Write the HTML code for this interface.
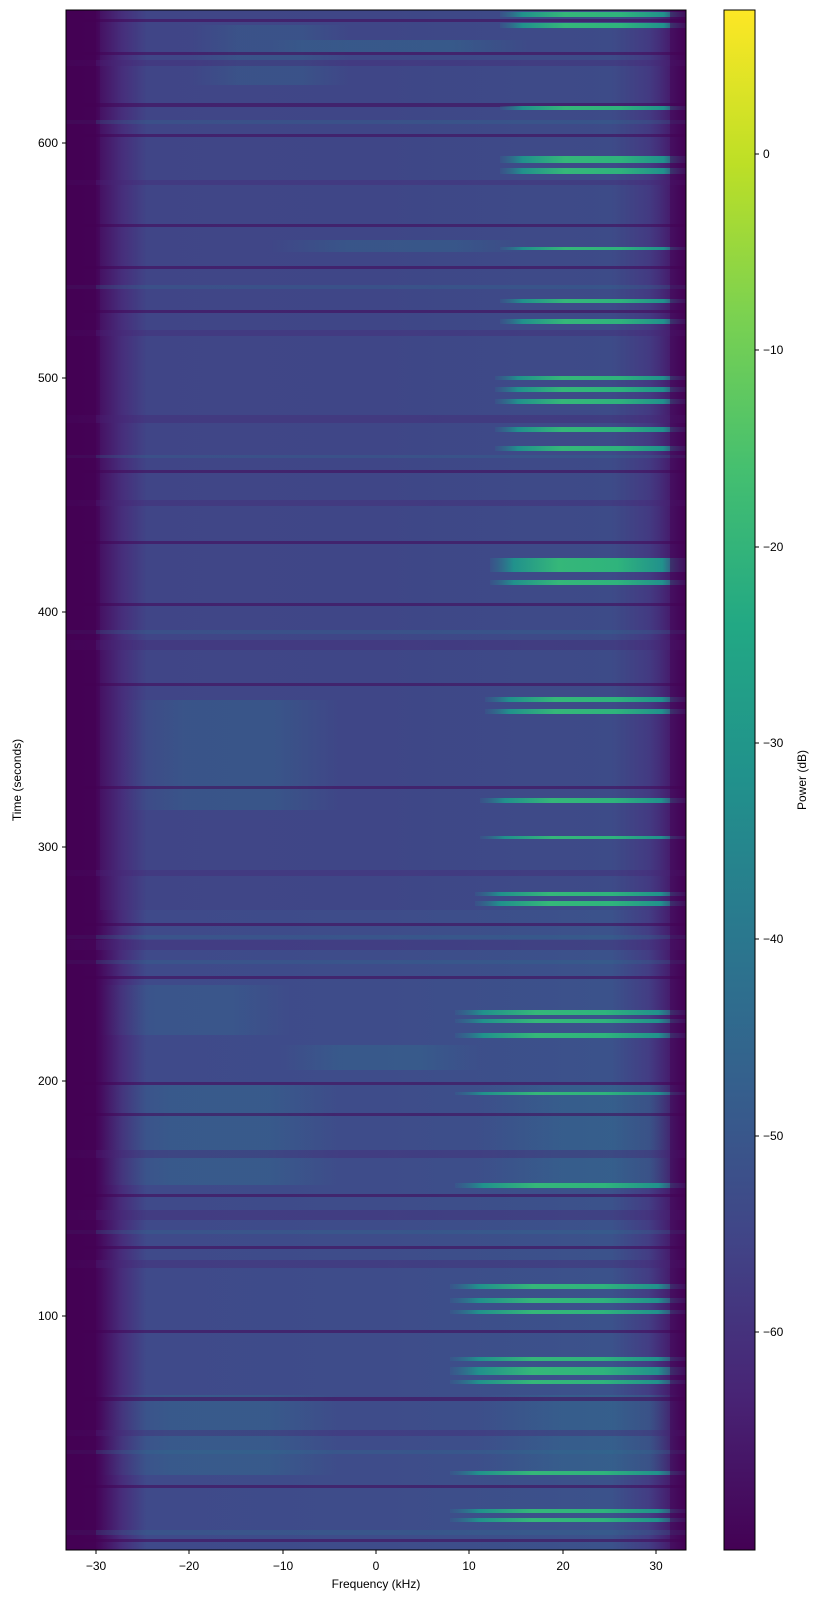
<!DOCTYPE html>
<html><head><meta charset="utf-8"><style>
body{margin:0;background:#fff;}
svg{display:block;font-family:"Liberation Sans","DejaVu Sans",sans-serif;}
</style></head><body>
<svg width="823" height="1603" viewBox="0 0 823 1603" xmlns="http://www.w3.org/2000/svg">
<defs>
<linearGradient id="base" x1="66" x2="686" y1="0" y2="0" gradientUnits="userSpaceOnUse">
<stop offset="0" stop-color="#440154"/>
<stop offset="0.05" stop-color="#450559"/>
<stop offset="0.09" stop-color="#472d7b"/>
<stop offset="0.13" stop-color="#3f4a8a"/>
<stop offset="0.5" stop-color="#3e4c8a"/>
<stop offset="0.88" stop-color="#3b528b"/>
<stop offset="0.94" stop-color="#433d84"/>
<stop offset="0.98" stop-color="#46186a"/>
<stop offset="1" stop-color="#440154"/>
</linearGradient>
<linearGradient id="grn" x1="0" x2="1" y1="0" y2="0">
<stop offset="0" stop-color="#2c728e" stop-opacity="0.2"/>
<stop offset="0.12" stop-color="#21918c"/>
<stop offset="0.35" stop-color="#35b779"/>
<stop offset="0.65" stop-color="#2fb47c"/>
<stop offset="0.88" stop-color="#21918c"/>
<stop offset="1" stop-color="#3b528b" stop-opacity="0.3"/>
</linearGradient>
<linearGradient id="tealL" x1="0" x2="1" y1="0" y2="0">
<stop offset="0" stop-color="#2a788e" stop-opacity="0"/>
<stop offset="0.3" stop-color="#2a788e" stop-opacity="0.6"/>
<stop offset="0.7" stop-color="#2a788e" stop-opacity="0.6"/>
<stop offset="1" stop-color="#2a788e" stop-opacity="0"/>
</linearGradient>
<linearGradient id="tealR" x1="0" x2="1" y1="0" y2="0">
<stop offset="0" stop-color="#2a788e" stop-opacity="0"/>
<stop offset="0.4" stop-color="#2a788e" stop-opacity="0.5"/>
<stop offset="0.85" stop-color="#2a788e" stop-opacity="0.6"/>
<stop offset="1" stop-color="#2a788e" stop-opacity="0"/>
</linearGradient>
<linearGradient id="vir" x1="0" x2="0" y1="1" y2="0">
<stop offset="0" stop-color="#440154"/>
<stop offset="0.1" stop-color="#482475"/>
<stop offset="0.2" stop-color="#414487"/>
<stop offset="0.3" stop-color="#355f8d"/>
<stop offset="0.4" stop-color="#2a788e"/>
<stop offset="0.5" stop-color="#21918c"/>
<stop offset="0.6" stop-color="#22a884"/>
<stop offset="0.7" stop-color="#44bf70"/>
<stop offset="0.8" stop-color="#7ad151"/>
<stop offset="0.9" stop-color="#bddf26"/>
<stop offset="1" stop-color="#fde725"/>
</linearGradient>
<clipPath id="pc"><rect x="66" y="10" width="620" height="1540"/></clipPath>
</defs>
<g clip-path="url(#pc)">
<rect x="66" y="10" width="620" height="1540" fill="url(#base)"/>
<rect x="100" y="10" width="560" height="900" fill="#46337f" opacity="0.2"/>
<!-- teal broad patches -->
<rect x="120" y="700" width="220" height="110" fill="url(#tealL)" opacity="0.5"/>
<rect x="100" y="1085" width="240" height="100" fill="url(#tealL)" opacity="0.55"/>
<rect x="100" y="1395" width="240" height="80" fill="url(#tealL)" opacity="0.55"/>
<rect x="100" y="985" width="190" height="50" fill="url(#tealL)" opacity="0.4"/>
<rect x="190" y="25" width="160" height="60" fill="url(#tealL)" opacity="0.4"/>
<rect x="480" y="1085" width="200" height="100" fill="url(#tealR)" opacity="0.6"/>
<rect x="480" y="1395" width="200" height="80" fill="url(#tealR)" opacity="0.6"/>
<rect x="270" y="40" width="260" height="12" fill="url(#tealL)" opacity="0.6"/>
<rect x="270" y="240" width="260" height="12" fill="url(#tealL)" opacity="0.5"/>
<rect x="280" y="1045" width="200" height="25" fill="url(#tealL)" opacity="0.5"/>
<!-- subtle stripes -->
<g fill="#482475" opacity="0.35">
<rect x="66" y="60" width="620" height="6"/>
<rect x="66" y="180" width="620" height="5"/>
<rect x="66" y="330" width="620" height="6"/>
<rect x="66" y="415" width="620" height="8"/>
<rect x="66" y="500" width="620" height="6"/>
<rect x="66" y="640" width="620" height="10"/>
<rect x="66" y="870" width="620" height="6"/>
<rect x="66" y="940" width="620" height="10"/>
<rect x="66" y="1150" width="620" height="8"/>
<rect x="66" y="1210" width="620" height="10"/>
<rect x="66" y="1260" width="620" height="8"/>
<rect x="66" y="1430" width="620" height="6"/>
</g>
<g fill="#2c728e" opacity="0.25">
<rect x="66" y="120" width="620" height="4"/>
<rect x="66" y="285" width="620" height="4"/>
<rect x="66" y="455" width="620" height="3"/>
<rect x="66" y="630" width="620" height="4"/>
<rect x="66" y="935" width="620" height="4"/>
<rect x="66" y="960" width="620" height="4"/>
<rect x="66" y="1230" width="620" height="4"/>
<rect x="66" y="1450" width="620" height="4"/>
<rect x="66" y="1530" width="620" height="5"/>
</g>
<!-- dark bands -->
<g fill="#440154" opacity="0.5">
<rect x="66" y="19" width="620" height="3"/>
<rect x="66" y="52" width="620" height="3"/>
<rect x="66" y="103" width="620" height="4"/>
<rect x="66" y="134" width="620" height="3"/>
<rect x="66" y="224" width="620" height="3"/>
<rect x="66" y="266" width="620" height="3"/>
<rect x="66" y="310" width="620" height="3"/>
<rect x="66" y="470" width="620" height="3"/>
<rect x="66" y="541" width="620" height="3"/>
<rect x="66" y="603" width="620" height="3"/>
<rect x="66" y="683" width="620" height="3"/>
<rect x="66" y="786" width="620" height="3"/>
<rect x="66" y="923" width="620" height="3"/>
<rect x="66" y="976" width="620" height="3"/>
<rect x="66" y="1082" width="620" height="3"/>
<rect x="66" y="1113" width="620" height="3"/>
<rect x="66" y="1194" width="620" height="3"/>
<rect x="66" y="1246" width="620" height="3"/>
<rect x="66" y="1330" width="620" height="3"/>
<rect x="66" y="1397" width="620" height="4"/>
<rect x="66" y="1485" width="620" height="3"/>
<rect x="66" y="1539" width="620" height="3"/>
</g>
<!-- bright green bands right -->
<g fill="url(#grn)">
<rect x="500" y="12" width="186" height="5"/>
<rect x="500" y="23" width="186" height="5"/>
<rect x="500" y="106" width="186" height="4"/>
<rect x="500" y="156" width="186" height="7"/>
<rect x="500" y="168" width="186" height="6"/>
<rect x="500" y="247" width="186" height="3"/>
<rect x="500" y="299" width="186" height="4"/>
<rect x="500" y="319" width="186" height="5"/>
<rect x="495" y="376" width="191" height="4"/>
<rect x="495" y="387" width="191" height="5"/>
<rect x="495" y="399" width="191" height="5"/>
<rect x="495" y="427" width="191" height="5"/>
<rect x="495" y="446" width="191" height="5"/>
<rect x="490" y="558" width="196" height="14"/>
<rect x="490" y="580" width="196" height="5"/>
<rect x="485" y="697" width="201" height="5"/>
<rect x="485" y="709" width="201" height="5"/>
<rect x="480" y="798" width="206" height="5"/>
<rect x="480" y="836" width="206" height="3"/>
<rect x="475" y="892" width="211" height="4"/>
<rect x="475" y="901" width="211" height="5"/>
<rect x="455" y="1010" width="231" height="5"/>
<rect x="455" y="1019" width="231" height="4"/>
<rect x="455" y="1033" width="231" height="5"/>
<rect x="455" y="1092" width="231" height="3"/>
<rect x="455" y="1183" width="231" height="5"/>
<rect x="450" y="1284" width="236" height="5"/>
<rect x="450" y="1298" width="236" height="5"/>
<rect x="450" y="1310" width="236" height="4"/>
<rect x="450" y="1357" width="236" height="4"/>
<rect x="450" y="1367" width="236" height="8"/>
<rect x="450" y="1380" width="236" height="4"/>
<rect x="450" y="1471" width="236" height="4"/>
<rect x="450" y="1509" width="236" height="4"/>
<rect x="450" y="1518" width="236" height="4"/>
</g>
<rect x="66" y="10" width="30" height="1540" fill="#440154" opacity="0.7"/>
<rect x="670" y="10" width="16" height="1540" fill="#440154" opacity="0.5"/>
</g>
<rect x="66" y="10" width="620" height="1540" fill="none" stroke="#000" stroke-width="1"/>
<g stroke="#000" stroke-width="1">
<line x1="96" y1="1550" x2="96" y2="1554"/>
<line x1="189" y1="1550" x2="189" y2="1554"/>
<line x1="283" y1="1550" x2="283" y2="1554"/>
<line x1="376" y1="1550" x2="376" y2="1554"/>
<line x1="469" y1="1550" x2="469" y2="1554"/>
<line x1="563" y1="1550" x2="563" y2="1554"/>
<line x1="656" y1="1550" x2="656" y2="1554"/>
<line x1="62" y1="143" x2="66" y2="143"/>
<line x1="62" y1="378" x2="66" y2="378"/>
<line x1="62" y1="612" x2="66" y2="612"/>
<line x1="62" y1="847" x2="66" y2="847"/>
<line x1="62" y1="1081" x2="66" y2="1081"/>
<line x1="62" y1="1316" x2="66" y2="1316"/>
</g>
<g font-size="12" fill="#000" text-anchor="middle">
<text x="96" y="1570">−30</text>
<text x="189" y="1570">−20</text>
<text x="283" y="1570">−10</text>
<text x="376" y="1570">0</text>
<text x="469" y="1570">10</text>
<text x="563" y="1570">20</text>
<text x="656" y="1570">30</text>
<text x="376" y="1588">Frequency (kHz)</text>
</g>
<g font-size="12" fill="#000" text-anchor="end">
<text x="58" y="147">600</text>
<text x="58" y="382">500</text>
<text x="58" y="616">400</text>
<text x="58" y="851">300</text>
<text x="58" y="1085">200</text>
<text x="58" y="1320">100</text>
</g>
<text x="21" y="780" font-size="12" text-anchor="middle" transform="rotate(-90 21 780)">Time (seconds)</text>
<rect x="724" y="10" width="31" height="1540" fill="url(#vir)" stroke="#000" stroke-width="1"/>
<g stroke="#000" stroke-width="1">
<line x1="755" y1="154" x2="759" y2="154"/>
<line x1="755" y1="350" x2="759" y2="350"/>
<line x1="755" y1="547" x2="759" y2="547"/>
<line x1="755" y1="743" x2="759" y2="743"/>
<line x1="755" y1="939" x2="759" y2="939"/>
<line x1="755" y1="1136" x2="759" y2="1136"/>
<line x1="755" y1="1332" x2="759" y2="1332"/>
</g>
<g font-size="12" fill="#000">
<text x="763" y="158">0</text>
<text x="763" y="354">−10</text>
<text x="763" y="551">−20</text>
<text x="763" y="747">−30</text>
<text x="763" y="943">−40</text>
<text x="763" y="1140">−50</text>
<text x="763" y="1336">−60</text>
</g>
<text x="806" y="780" font-size="12" text-anchor="middle" transform="rotate(-90 806 780)">Power (dB)</text>
</svg>
</body></html>
